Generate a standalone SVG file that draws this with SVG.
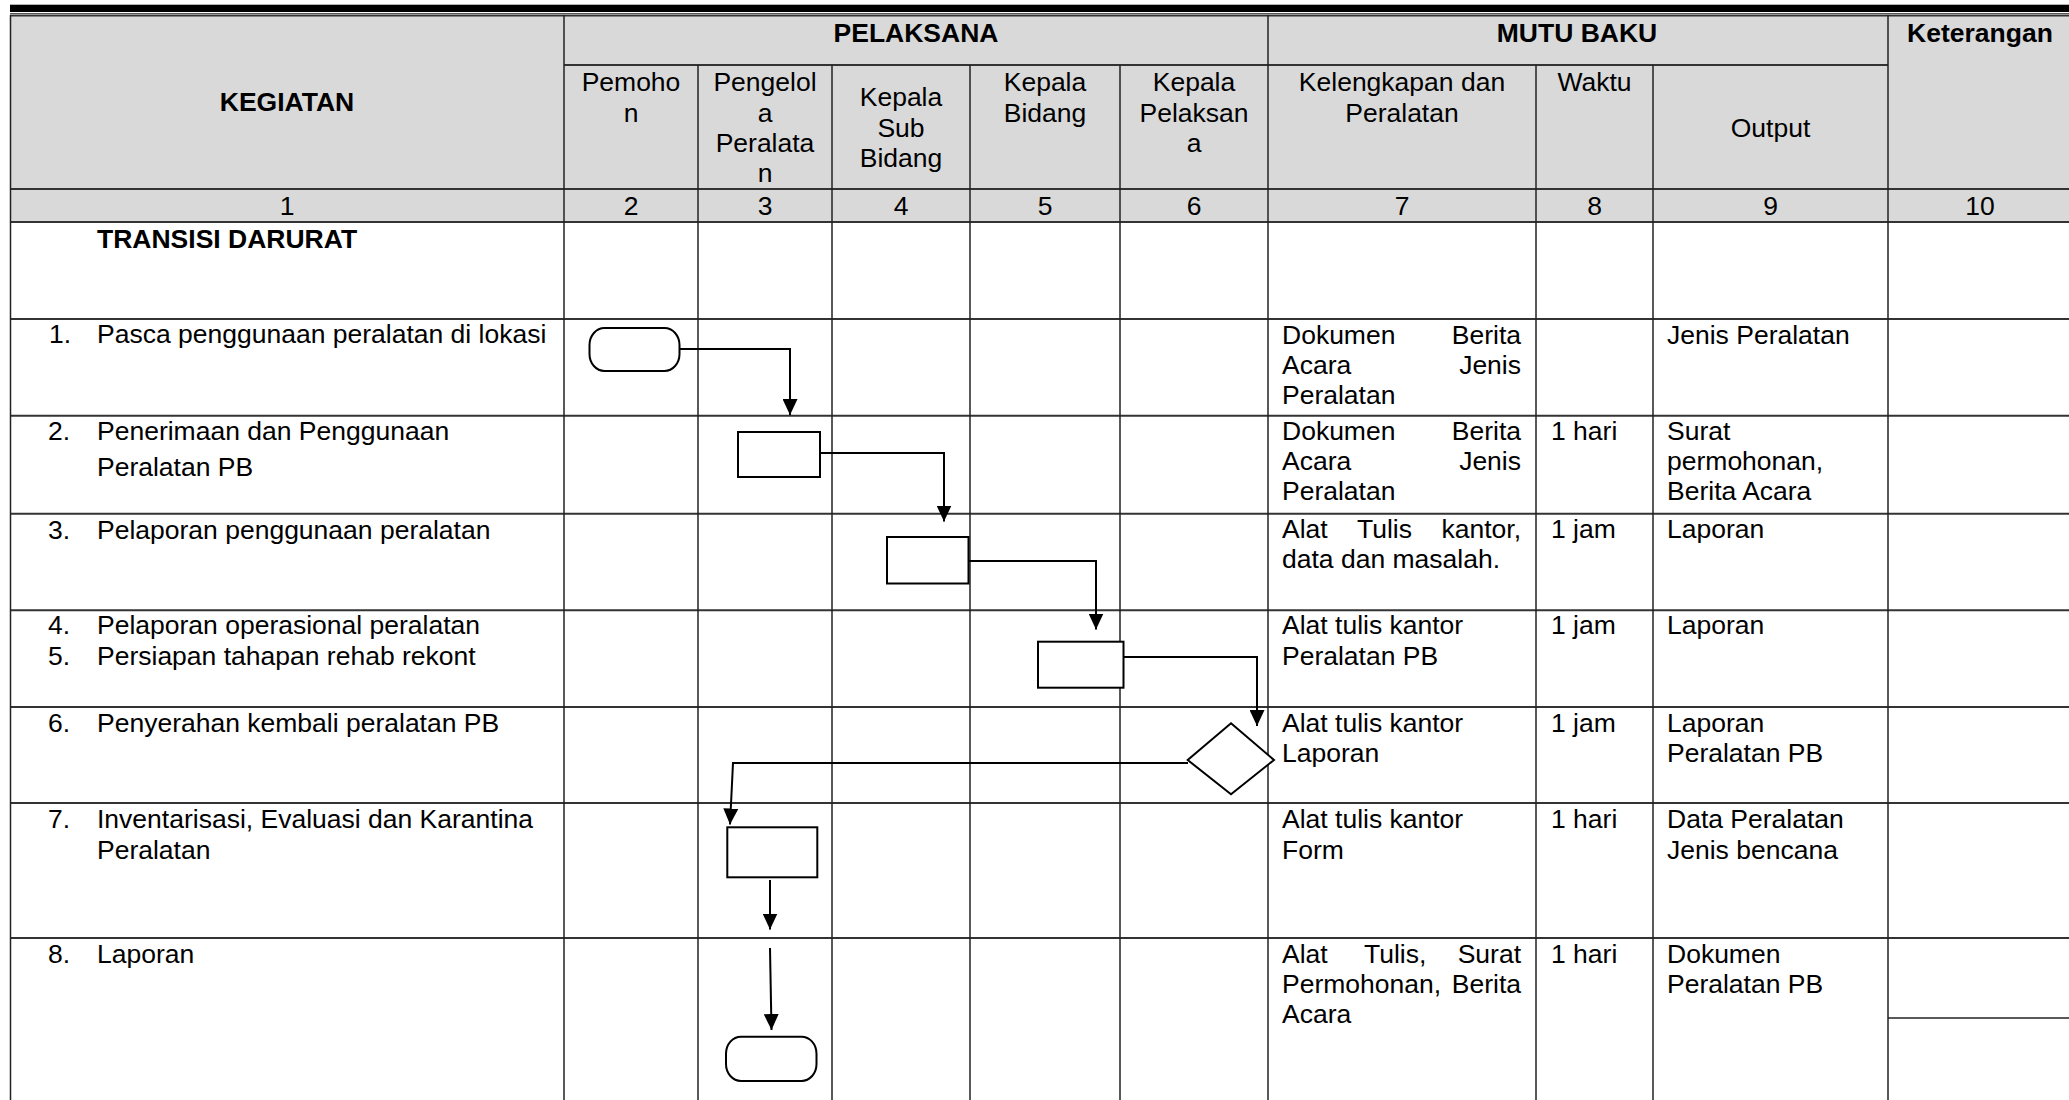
<svg xmlns="http://www.w3.org/2000/svg" width="2069" height="1100" viewBox="0 0 2069 1100">
<defs>
<style>
text{font-family:"Liberation Sans",Arial,sans-serif;font-size:26.5px;fill:#000}
.b{font-weight:bold}
.c{text-anchor:middle}
.e{text-anchor:end}
.hl{stroke:#333;stroke-width:2;fill:none}
.vl{stroke:#222;stroke-width:1.5;fill:none}
.shape{fill:#fff;stroke:#000;stroke-width:2}
.conn{fill:none;stroke:#000;stroke-width:2}
</style>
<marker id="arr" markerUnits="userSpaceOnUse" viewBox="0 0 16 15" refX="16" refY="7.5" markerWidth="16" markerHeight="15" orient="auto">
<path d="M0,0 L16,7.5 L0,15 z" fill="#000"/>
</marker>
</defs>
<rect width="2069" height="1100" fill="#fff"/>
<rect x="10" y="4.7" width="2059" height="7.3" fill="#000"/>
<line x1="10" y1="13.5" x2="2069" y2="13.5" stroke="#555" stroke-width="1"/>
<g id="table">
<rect x="10" y="15.5" width="2059" height="206.5" fill="#d9d9d9"/>
<line class="hl" x1="10" y1="15.5" x2="2069" y2="15.5"/>
<line class="hl" x1="564" y1="65" x2="1888" y2="65"/>
<line class="hl" x1="10" y1="189" x2="2069" y2="189"/>
<line class="hl" x1="10" y1="222" x2="2069" y2="222"/>
<line class="hl" x1="10" y1="319" x2="2069" y2="319"/>
<line class="hl" x1="10" y1="415.7" x2="2069" y2="415.7"/>
<line class="hl" x1="10" y1="513.7" x2="2069" y2="513.7"/>
<line class="hl" x1="10" y1="610.3" x2="2069" y2="610.3"/>
<line class="hl" x1="10" y1="707" x2="2069" y2="707"/>
<line class="hl" x1="10" y1="803" x2="2069" y2="803"/>
<line class="hl" x1="10" y1="938" x2="2069" y2="938"/>
<line class="vl" x1="1888" y1="1018" x2="2069" y2="1018"/>
<line class="vl" x1="10.5" y1="15" x2="10.5" y2="1100"/>
<line class="vl" x1="564" y1="15" x2="564" y2="1100"/>
<line class="vl" x1="698" y1="65" x2="698" y2="1100"/>
<line class="vl" x1="832" y1="65" x2="832" y2="1100"/>
<line class="vl" x1="970" y1="65" x2="970" y2="1100"/>
<line class="vl" x1="1120" y1="65" x2="1120" y2="1100"/>
<line class="vl" x1="1268" y1="15" x2="1268" y2="1100"/>
<line class="vl" x1="1536" y1="65" x2="1536" y2="1100"/>
<line class="vl" x1="1653" y1="65" x2="1653" y2="1100"/>
<line class="vl" x1="1888" y1="15" x2="1888" y2="1100"/>
</g>
<g id="header">
<text class="b c" x="287" y="111">KEGIATAN</text>
<text class="b c" x="916" y="42">PELAKSANA</text>
<text class="b c" x="1577" y="42">MUTU BAKU</text>
<text class="b c" x="1980" y="42">Keterangan</text>
<text class="c" x="631" y="91">Pemoho</text>
<text class="c" x="631" y="121.7">n</text>
<text class="c" x="765" y="91">Pengelol</text>
<text class="c" x="765" y="121.7">a</text>
<text class="c" x="765" y="151.7">Peralata</text>
<text class="c" x="765" y="181.7">n</text>
<text class="c" x="901" y="106">Kepala</text>
<text class="c" x="901" y="136.5">Sub</text>
<text class="c" x="901" y="166.5">Bidang</text>
<text class="c" x="1045" y="91">Kepala</text>
<text class="c" x="1045" y="121.7">Bidang</text>
<text class="c" x="1194" y="91">Kepala</text>
<text class="c" x="1194" y="121.7">Pelaksan</text>
<text class="c" x="1194" y="151.7">a</text>
<text class="c" x="1402" y="91">Kelengkapan dan</text>
<text class="c" x="1402" y="121.7">Peralatan</text>
<text class="c" x="1594.5" y="91">Waktu</text>
<text class="c" x="1770.5" y="136.5">Output</text>
<text class="c" x="287" y="215">1</text>
<text class="c" x="631" y="215">2</text>
<text class="c" x="765" y="215">3</text>
<text class="c" x="901" y="215">4</text>
<text class="c" x="1045" y="215">5</text>
<text class="c" x="1194" y="215">6</text>
<text class="c" x="1402" y="215">7</text>
<text class="c" x="1594.5" y="215">8</text>
<text class="c" x="1770.5" y="215">9</text>
<text class="c" x="1980" y="215">10</text>
</g>
<g id="kegiatan">
<text class="b" x="97" y="248.3">TRANSISI DARURAT</text>
<text x="49" y="343.3">1.</text><text x="97" y="343.3">Pasca penggunaan peralatan di lokasi</text>
<text x="48" y="440">2.</text><text x="97" y="440">Penerimaan dan Penggunaan</text>
<text x="97" y="476">Peralatan PB</text>
<text x="48" y="539">3.</text><text x="97" y="539">Pelaporan penggunaan peralatan</text>
<text x="48" y="634">4.</text><text x="97" y="634">Pelaporan operasional peralatan</text>
<text x="48" y="665">5.</text><text x="97" y="665">Persiapan tahapan rehab rekont</text>
<text x="48" y="731.7">6.</text><text x="97" y="731.7">Penyerahan kembali peralatan PB</text>
<text x="48" y="828.3">7.</text><text x="97" y="828.3">Inventarisasi, Evaluasi dan Karantina</text>
<text x="97" y="859">Peralatan</text>
<text x="48" y="963.3">8.</text><text x="97" y="963.3">Laporan</text>
</g>
<g id="mutu">
<text x="1282" y="344.3">Dokumen</text><text class="e" x="1521" y="344.3">Berita</text>
<text x="1282" y="374.3">Acara</text><text class="e" x="1521" y="374.3">Jenis</text>
<text x="1282" y="404.3">Peralatan</text>
<text x="1282" y="440">Dokumen</text><text class="e" x="1521" y="440">Berita</text>
<text x="1282" y="470">Acara</text><text class="e" x="1521" y="470">Jenis</text>
<text x="1282" y="500">Peralatan</text>
<text x="1282" y="538.3">Alat</text><text x="1357" y="538.3">Tulis</text><text class="e" x="1521" y="538.3">kantor,</text>
<text x="1282" y="568.3">data dan masalah.</text>
<text x="1282" y="634.3">Alat tulis kantor</text>
<text x="1282" y="665">Peralatan PB</text>
<text x="1282" y="731.7">Alat tulis kantor</text>
<text x="1282" y="761.7">Laporan</text>
<text x="1282" y="828.3">Alat tulis kantor</text>
<text x="1282" y="859">Form</text>
<text x="1282" y="963.3">Alat</text><text x="1364" y="963.3">Tulis,</text><text class="e" x="1521" y="963.3">Surat</text>
<text x="1282" y="993.3">Permohonan,</text><text class="e" x="1521" y="993.3">Berita</text>
<text x="1282" y="1023.3">Acara</text>
<text x="1551" y="440">1 hari</text>
<text x="1551" y="538.3">1 jam</text>
<text x="1551" y="634.3">1 jam</text>
<text x="1551" y="731.7">1 jam</text>
<text x="1551" y="828.3">1 hari</text>
<text x="1551" y="963.3">1 hari</text>
<text x="1667" y="344.3">Jenis Peralatan</text>
<text x="1667" y="440">Surat</text>
<text x="1667" y="470">permohonan,</text>
<text x="1667" y="500">Berita Acara</text>
<text x="1667" y="538.3">Laporan</text>
<text x="1667" y="634.3">Laporan</text>
<text x="1667" y="731.7">Laporan</text>
<text x="1667" y="761.7">Peralatan PB</text>
<text x="1667" y="828.3">Data Peralatan</text>
<text x="1667" y="859">Jenis bencana</text>
<text x="1667" y="963.3">Dokumen</text>
<text x="1667" y="993.3">Peralatan PB</text>
</g>
<g id="connectors">
<path class="conn" d="M679,349 H790 V415" marker-end="url(#arr)"/>
<path class="conn" d="M813,453 H944 V521.5" marker-end="url(#arr)"/>
<path class="conn" d="M964,561 H1096 V629.5" marker-end="url(#arr)"/>
<path class="conn" d="M1123,657 H1257 V726" marker-end="url(#arr)"/>
<path class="conn" d="M1188,763 H733 L730,824.5" marker-end="url(#arr)"/>
<path class="conn" d="M770,880 V929.5" marker-end="url(#arr)"/>
<path class="conn" d="M770,948 L771.5,1030" marker-end="url(#arr)"/>
</g>
<g id="node-start"><rect class="shape" x="589.5" y="328" width="90" height="43" rx="15" ry="17"/></g>
<g id="node-2"><rect class="shape" x="738" y="432" width="82" height="45"/></g>
<g id="node-3"><rect class="shape" x="887" y="537" width="81.5" height="46.5"/></g>
<g id="node-4"><rect class="shape" x="1038" y="641.7" width="85.5" height="46"/></g>
<g id="node-6"><polygon class="shape" points="1231,723.3 1274,760 1231,794.3 1187.7,760"/></g>
<g id="node-7"><rect class="shape" x="727.3" y="827.3" width="90" height="50"/></g>
<g id="node-end"><rect class="shape" x="726" y="1036.7" width="90.5" height="44.3" rx="15" ry="17"/></g>
</svg>
